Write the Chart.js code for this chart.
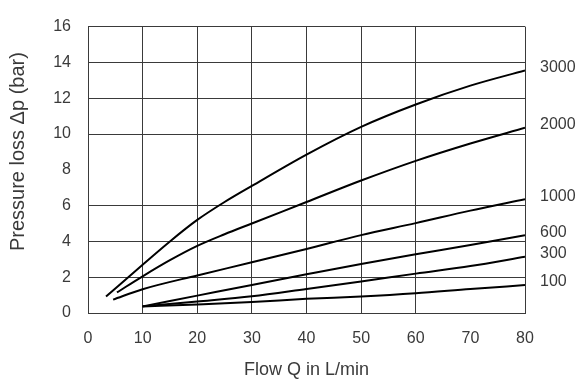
<!DOCTYPE html>
<html>
<head>
<meta charset="utf-8">
<script src="https://cdn.jsdelivr.net/npm/chart.js@4"></script>
<style>
  html, body { margin: 0; padding: 0; background: #fff; }
  #wrap { width: 582px; height: 381px; }
</style>
</head>
<body>
<div id="wrap"><canvas id="chart" width="582" height="381"></canvas></div>
<script>
// speed curves (1/min), flow Q in L/min, pressure loss in bar
const speeds = ['3000', '2000', '1000', '600', '300', '100'];

const flow3000 = [3.3, 10, 15, 20, 25, 30, 40, 50, 60, 70, 80];
const loss3000 = [0.92, 2.7, 4.0, 5.2, 6.2, 7.1, 8.85, 10.4, 11.65, 12.7, 13.55];

const flow2000 = [5.3, 10, 15, 20, 25, 30, 40, 50, 60, 70, 80];
const loss2000 = [1.15, 2.05, 2.95, 3.75, 4.4, 5.0, 6.2, 7.4, 8.5, 9.47, 10.35];

const flow1000 = [4.6, 10, 20, 30, 40, 50, 60, 70, 80];
const loss1000 = [0.75, 1.33, 2.1, 2.83, 3.58, 4.35, 5.02, 5.72, 6.36];

const flowLow = [10, 20, 30, 40, 50, 60, 70, 80];
const loss600 = [0.37, 0.97, 1.57, 2.16, 2.74, 3.28, 3.8, 4.35];
const loss300 = [0.37, 0.64, 0.93, 1.34, 1.76, 2.2, 2.62, 3.14];
const loss100 = [0.37, 0.48, 0.61, 0.79, 0.92, 1.1, 1.34, 1.56];

const xTicks = [0, 10, 20, 30, 40, 50, 60, 70, 80];
const yTicks = [0, 2, 4, 6, 8, 10, 12, 14, 16];

const series = [
  [flow3000, loss3000],
  [flow2000, loss2000],
  [flow1000, loss1000],
  [flowLow, loss600],
  [flowLow, loss300],
  [flowLow, loss100]
];

const FONT = "'Liberation Sans', Arial, sans-serif";
const TEXT = '#3a3a3a';
const GRID = '#3a3a3a';

// gridlines missing in the original at Q=70 and dp=8
const hiddenX = [70];
const hiddenY = [8];

const curveLabels = {
  id: 'curveLabels',
  afterDatasetsDraw(chart) {
    const c = chart.ctx;
    const ys = chart.scales.y;
    c.save();
    c.font = '16px ' + FONT;
    c.fillStyle = TEXT;
    c.textAlign = 'left';
    c.textBaseline = 'middle';
    chart.data.datasets.forEach(ds => {
      const last = ds.data[ds.data.length - 1];
      c.fillText(ds.label, chart.chartArea.right + 15, ys.getPixelForValue(last.y) - 3);
    });
    c.restore();
  }
};

const yTitle = {
  id: 'yTitle',
  afterDraw(chart) {
    const c = chart.ctx;
    c.save();
    c.font = '20px ' + FONT;
    c.fillStyle = TEXT;
    c.textAlign = 'center';
    c.textBaseline = 'middle';
    c.translate(18, chart.chartArea.top + 125);
    c.rotate(-Math.PI / 2);
    c.fillText('Pressure loss \u0394p (bar)', 0, 0);
    c.restore();
  }
};

const chart = new Chart(document.getElementById('chart'), {
  type: 'line',
  data: {
    datasets: series.map((s, i) => ({
      label: speeds[i],
      data: s[0].map((q, j) => ({ x: q, y: s[1][j] })),
      borderColor: '#000',
      borderWidth: 2,
      pointRadius: 0,
      fill: false,
      cubicInterpolationMode: 'monotone'
    }))
  },
  options: {
    responsive: false,
    animation: false,
    layout: { padding: { top: 21, right: 57, bottom: 0, left: 0 } },
    plugins: {
      legend: { display: false },
      tooltip: { enabled: false }
    },
    scales: {
      x: {
        type: 'linear',
        min: 0,
        max: 80,
        afterBuildTicks: s => { s.ticks = xTicks.map(v => ({ value: v })); },
        afterFit: s => { s.height = 68; },
        grid: {
          color: ctx => hiddenX.includes(ctx.tick && ctx.tick.value) ? 'rgba(0,0,0,0)' : GRID,
          lineWidth: 1,
          drawTicks: false
        },
        border: { display: true, color: GRID, width: 1 },
        ticks: { color: TEXT, font: { family: FONT, size: 16 }, padding: 16, maxRotation: 0 },
        title: {
          display: true,
          text: 'Flow Q in L/min',
          color: TEXT,
          font: { family: FONT, size: 18 },
          padding: { top: 0, bottom: 0 }
        }
      },
      y: {
        min: 0,
        max: 16,
        afterBuildTicks: s => { s.ticks = yTicks.map(v => ({ value: v })); },
        afterFit: s => { s.width = 88; },
        grid: {
          color: ctx => hiddenY.includes(ctx.tick && ctx.tick.value) ? 'rgba(0,0,0,0)' : GRID,
          lineWidth: 1,
          drawTicks: false
        },
        border: { display: true, color: GRID, width: 1 },
        ticks: { color: TEXT, font: { family: FONT, size: 16 }, padding: 17 }
      }
    }
  },
  plugins: [curveLabels, yTitle]
});
</script>
</body>
</html>
